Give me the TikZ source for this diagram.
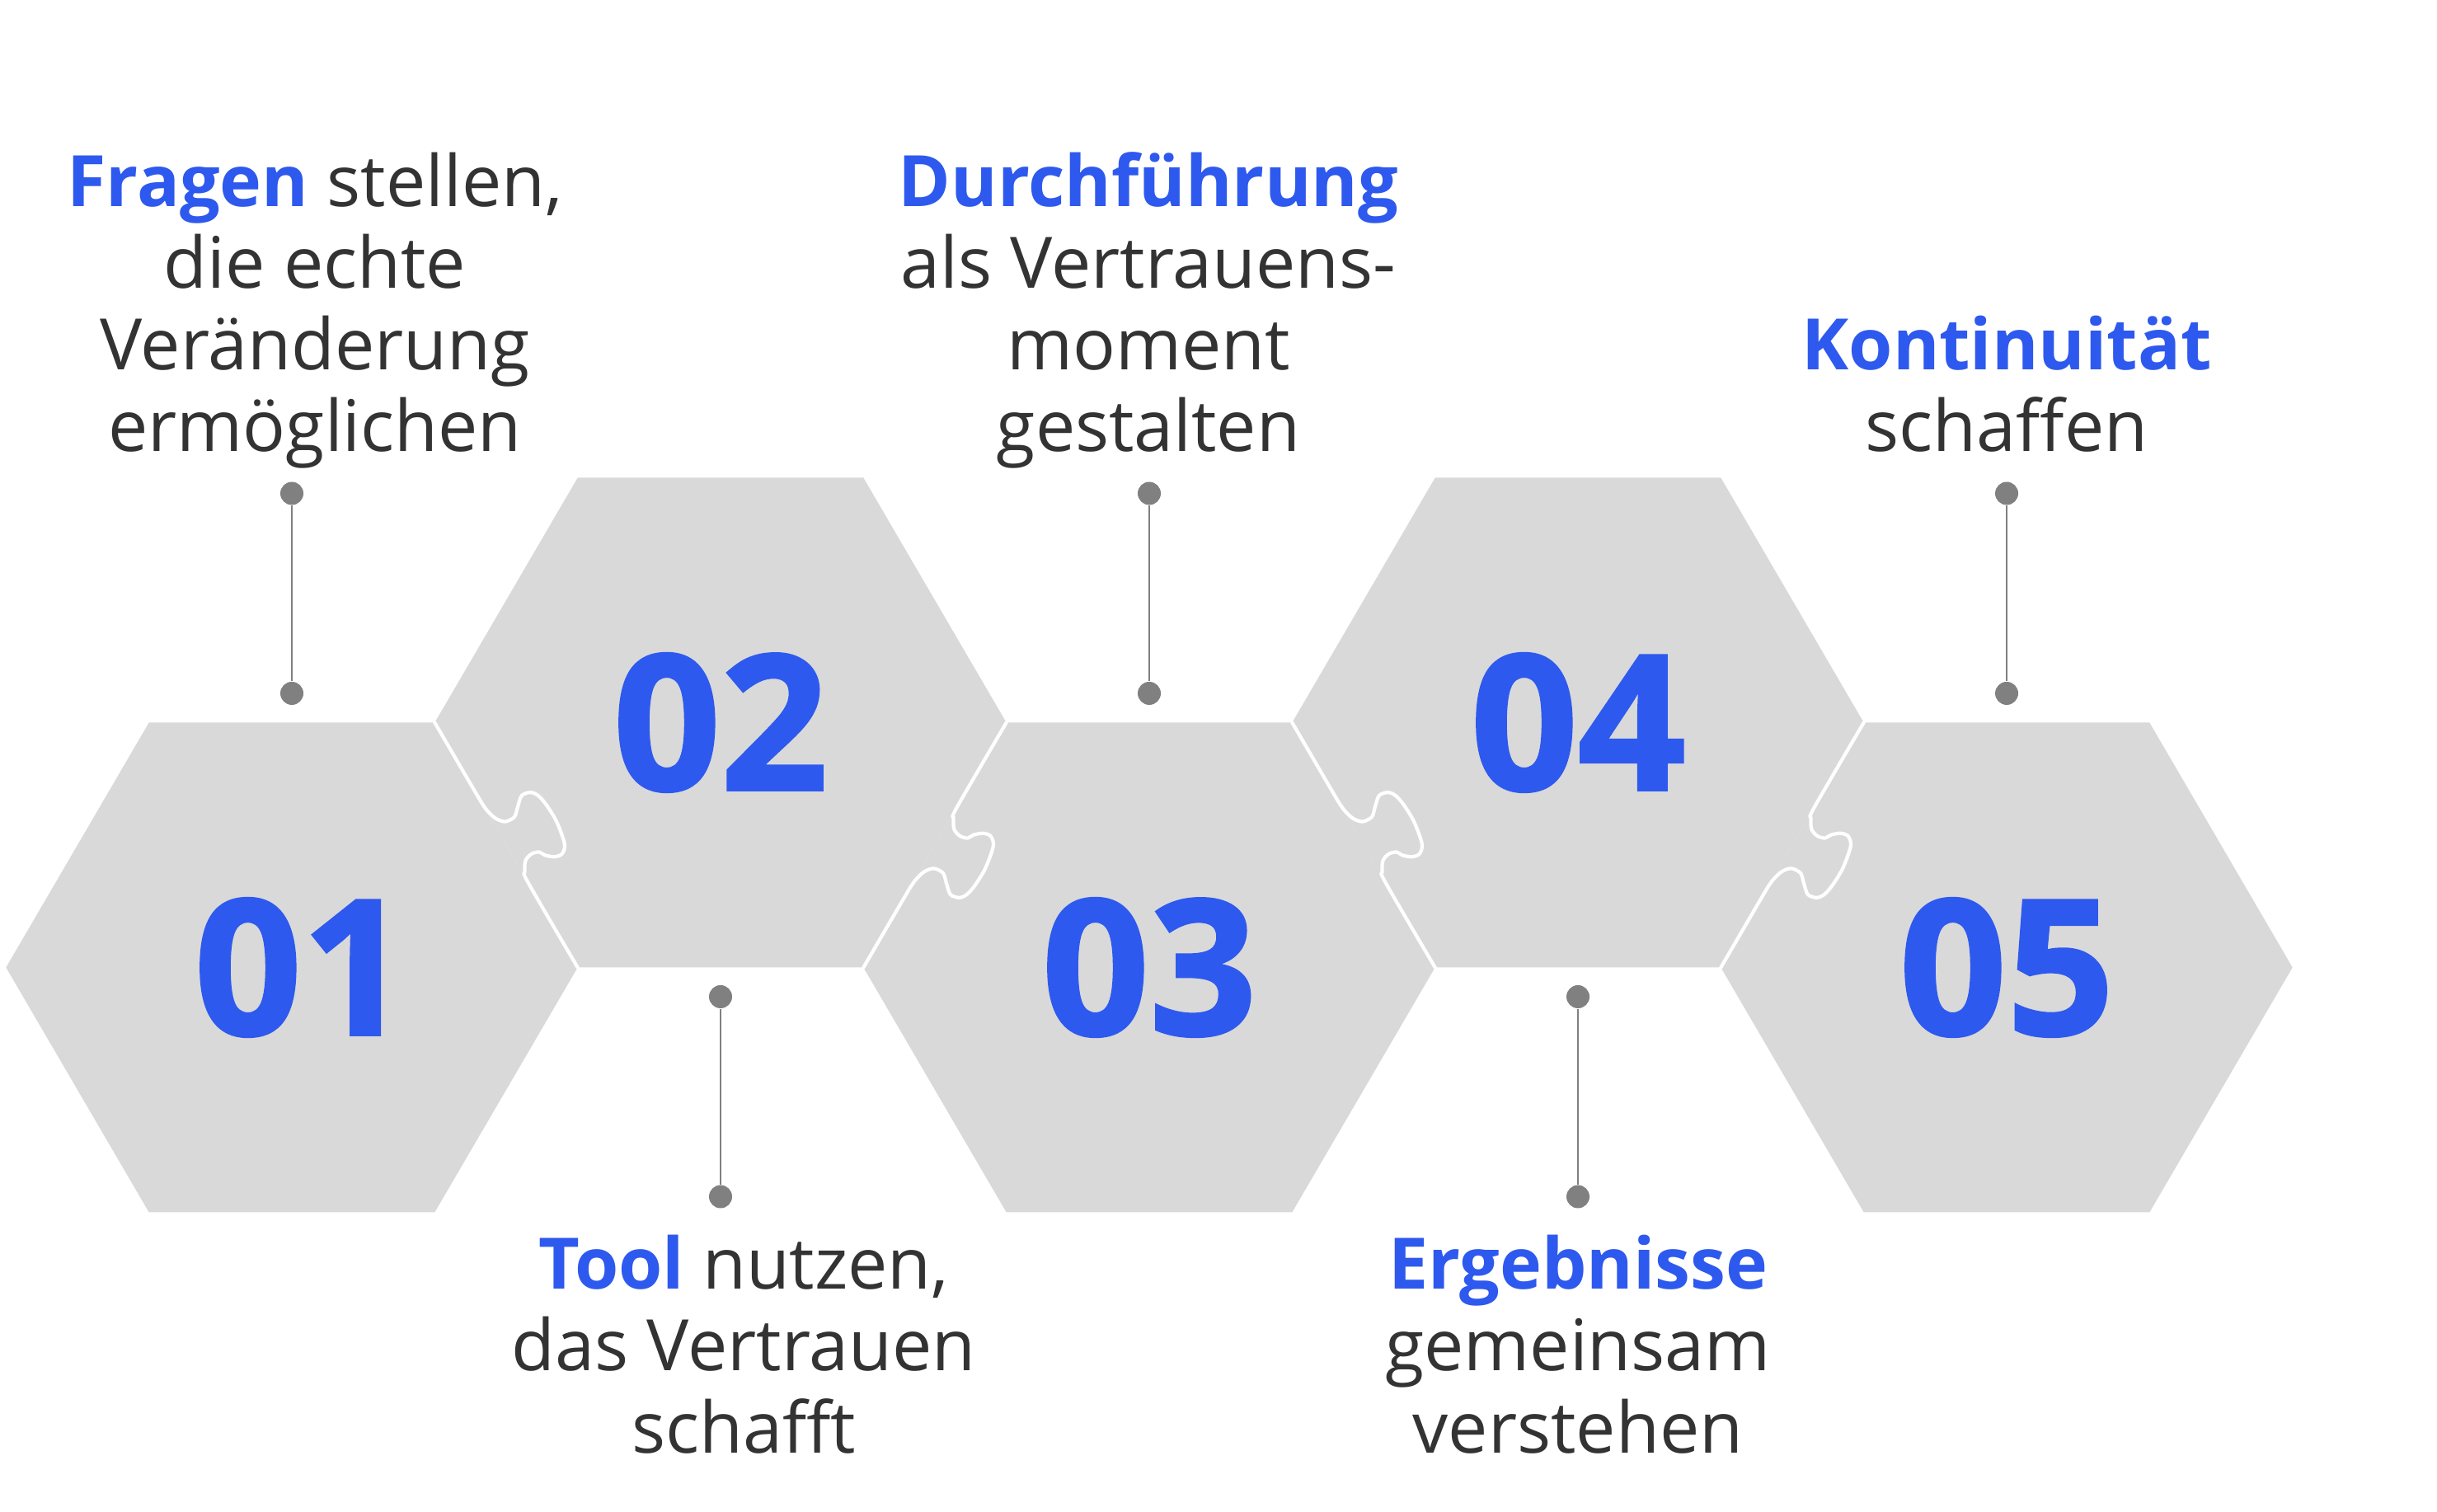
\documentclass[tikz,border=0pt]{standalone}
\usepackage{fontspec}
\setmainfont{Open Sans}
\newfontfamily\numfont{Open Sans}[BoldFeatures={FakeBold=1.5}]
\usepackage{tikz}
\usetikzlibrary{calc}
\definecolor{stepblue}{HTML}{2E59EE}
\definecolor{hexgray}{HTML}{D9D9D9}
\definecolor{textgray}{HTML}{333333}
\definecolor{pingray}{HTML}{808080}
\newcommand{\hl}[1]{\textbf{\color{stepblue}#1}}
\tikzset{
    hex/.style={fill=hexgray},
    seam/.style={draw=white, line width=1.2pt, line join=round, line cap=round},
    num/.style={font=\numfont\bfseries\fontsize{65}{65}\selectfont, text=stepblue, inner sep=0pt},
    desc/.style={font=\fontsize{24.5}{28.2}\selectfont, text=textgray, align=center, inner sep=0pt},
    pin/.style={shape=circle, fill=pingray, inner sep=0pt, minimum size=0.28cm},
    stem/.style={draw=pingray, line width=0.6pt}}

\begin{document}
\begin{tikzpicture}

            \fill[white] (0,0) rectangle (29.56,18.33);
            \useasboundingbox (0,0) rectangle (29.56,18.33);

            % hexagon centres
            \coordinate (h1) at (3.54,6.595);
            \coordinate (h2) at (8.74,9.565);
            \coordinate (h3) at (13.94,6.595);
            \coordinate (h4) at (19.14,9.565);
            \coordinate (h5) at (24.34,6.595);

            \foreach \i in {1,...,5}
                \fill[hex, shift={(h\i)}] (-3.467,0) -- (-1.733,2.97) -- (1.733,2.97) -- (3.467,0) -- (1.733,-2.97) -- (-1.733,-2.97) -- cycle;

            % puzzle seams between neighbours
            \foreach \a/\b/\ty/\ny in {1/2/-2.97/1.733, 2/3/2.97/-1.733, 3/4/-2.97/1.733, 4/5/2.97/-1.733}
                \draw[seam, shift={($(h\a)!0.5!(h\b)$)}, x={(1.733cm,\ty cm)}, y={(2.97cm,\ny cm)}]
                    plot[smooth, tension=0.5] coordinates {(-0.5,0) (-0.215,0) (-0.147,0.002) (-0.1,0.015) (-0.073,0.039) (-0.071,0.075) (-0.095,0.102) (-0.123,0.135) (-0.117,0.168) (-0.092,0.186) (-0.048,0.194) (0.02,0.195) (0.1,0.18) (0.126,0.155) (0.122,0.127) (0.1,0.1) (0.08,0.088) (0.072,0.061) (0.082,0.031) (0.115,0.009) (0.153,0) (0.5,0)};

            \node[num, xshift=0.12cm] (n1) at (h1) {01};
            \node[num] (n2) at (h2) {02};
            \node[num] (n3) at (h3) {03};
            \node[num] (n4) at (h4) {04};
            \node[num] (n5) at (h5) {05};

            % base anchor = baseline of the last line
            \node[desc, anchor=base] (t1) at (3.82,12.85) {\hl{Fragen} stellen,\\die echte\\Veränderung\\ermöglichen};
            \node[desc, anchor=base] (t2) at (9.02,0.71) {\hl{Tool} nutzen,\\das Vertrauen\\schafft};
            \node[desc, anchor=base] (t3) at (13.93,12.85) {\hl{Durchführung}\\als Vertrauens-\\moment\\gestalten};
            \node[desc, anchor=base] (t4) at (19.14,0.71) {\hl{Ergebnisse}\\gemeinsam\\verstehen};
            \node[desc, anchor=base] (t5) at (24.34,12.85) {\hl{Kontinuität}\\schaffen};

            \node[pin] (p1a) at (3.54,12.345) {};
            \node[pin] (p1b) at (3.54,9.92) {};
            \node[pin] (p2a) at (8.74,6.24) {};
            \node[pin] (p2b) at (8.74,3.815) {};
            \node[pin] (p3a) at (13.94,12.345) {};
            \node[pin] (p3b) at (13.94,9.92) {};
            \node[pin] (p4a) at (19.14,6.24) {};
            \node[pin] (p4b) at (19.14,3.815) {};
            \node[pin] (p5a) at (24.34,12.345) {};
            \node[pin] (p5b) at (24.34,9.92) {};

            \draw[stem] (p1a) -- (p1b);
            \draw[stem] (p2a) -- (p2b);
            \draw[stem] (p3a) -- (p3b);
            \draw[stem] (p4a) -- (p4b);
            \draw[stem] (p5a) -- (p5b);

        \end{tikzpicture}
\end{document}
